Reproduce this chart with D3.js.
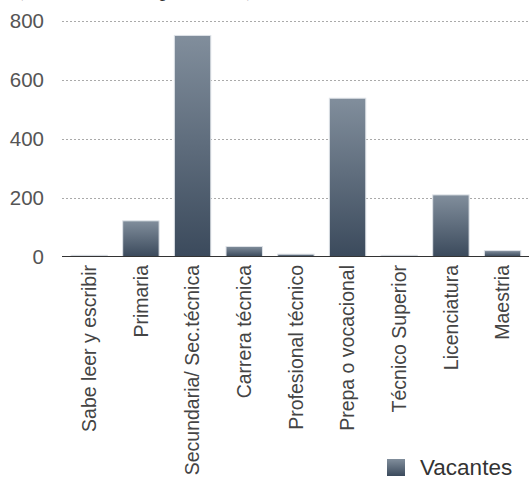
<!DOCTYPE html>
<html><head><meta charset="utf-8">
<script src="https://cdn.jsdelivr.net/npm/d3@7"></script>
<style>body{margin:0;background:#fff;}svg{display:block;}</style>
</head><body>
<script>
const categories = ["Sabe leer y escribir","Primaria","Secundaria/ Sec.técnica","Carrera técnica","Profesional técnico","Prepa o vocacional","Técnico Superior","Licenciatura","Maestria"];
const vacantes = [4, 121, 750, 34, 8, 537, 4, 209, 20];
const yTicks = [0, 200, 400, 600, 800];
const seriesName = "Vacantes";
const titleText = "(Número de puestos)";

const W = 529, H = 479;
const svg = d3.select("body").append("svg").attr("width", W).attr("height", H);

const defs = svg.append("defs");
const grad = defs.append("linearGradient").attr("id","barGrad").attr("x1",0).attr("y1",0).attr("x2",0).attr("y2",1);
grad.append("stop").attr("offset","0%").attr("stop-color","#818e9c");
grad.append("stop").attr("offset","100%").attr("stop-color","#3b4a5c");
const grad2 = defs.append("linearGradient").attr("id","legGrad").attr("x1",0).attr("y1",0).attr("x2",0).attr("y2",1);
grad2.append("stop").attr("offset","0%").attr("stop-color","#818e9c");
grad2.append("stop").attr("offset","100%").attr("stop-color","#3b4a5c");

const x = d3.scaleBand().domain(categories).range([63.4, 528.4]).paddingInner(0.295).paddingOuter(0.1475);
const y = d3.scaleLinear().domain([0, 800]).range([256.5, 20.7]);

// clipped title (only its descenders show at the top edge, as in the reference)
svg.append("text").attr("x", 16).attr("y", -4).attr("textLength", 238)
  .attr("font-family","Liberation Serif, serif").attr("font-size", 22).attr("fill","#333")
  .text(titleText);

// gridlines
svg.append("g").selectAll("line").data(yTicks.filter(d => d > 0)).join("line")
  .attr("x1", 62).attr("x2", W).attr("y1", d => Math.round(y(d)) + 0.5).attr("y2", d => Math.round(y(d)) + 0.5)
  .attr("stroke", "#aaa").attr("stroke-width", 1).attr("stroke-dasharray", "2,2");

// y axis labels
const yAxis = d3.axisLeft(y).tickValues(yTicks).tickSize(0).tickPadding(0);
const ya = svg.append("g").attr("transform", "translate(44,0)").call(yAxis);
ya.select(".domain").remove();
ya.selectAll("text").attr("font-family","Liberation Sans, Arial, sans-serif").attr("font-size", 20.5).attr("fill","#555").attr("dy","0.35em");

// bars
svg.append("g").selectAll("rect").data(vacantes).join("rect")
  .attr("x", (d, i) => x(categories[i]))
  .attr("y", d => y(d))
  .attr("width", x.bandwidth())
  .attr("height", d => y(0) - y(d))
  .attr("fill", "url(#barGrad)")
  .attr("stroke", "#dfe3e8").attr("stroke-width", 1);

// baseline
svg.append("line").attr("x1", 62).attr("x2", W).attr("y1", 256.5).attr("y2", 256.5)
  .attr("stroke", "#333").attr("stroke-width", 1.2);

// category labels
const xAxis = d3.axisBottom(x).tickSize(0).tickPadding(0);
const xa = svg.append("g").attr("transform", "translate(0,265)").call(xAxis);
xa.select(".domain").remove();
xa.selectAll("text")
  .attr("font-family","Liberation Sans, Arial, sans-serif").attr("font-size", 19.5).attr("fill","#444")
  .attr("transform","rotate(-90)").attr("text-anchor","end").attr("x", 0).attr("y", 0).attr("dy","0.35em");

// legend
const lg = svg.append("g");
lg.append("rect").attr("x", 387).attr("y", 459).attr("width", 18).attr("height", 17).attr("fill","url(#legGrad)");
lg.append("text").attr("x", 420).attr("y", 475).attr("font-family","Liberation Sans, Arial, sans-serif")
  .attr("font-size", 22.5).attr("fill","#333").text(seriesName);
</script>
</body></html>
